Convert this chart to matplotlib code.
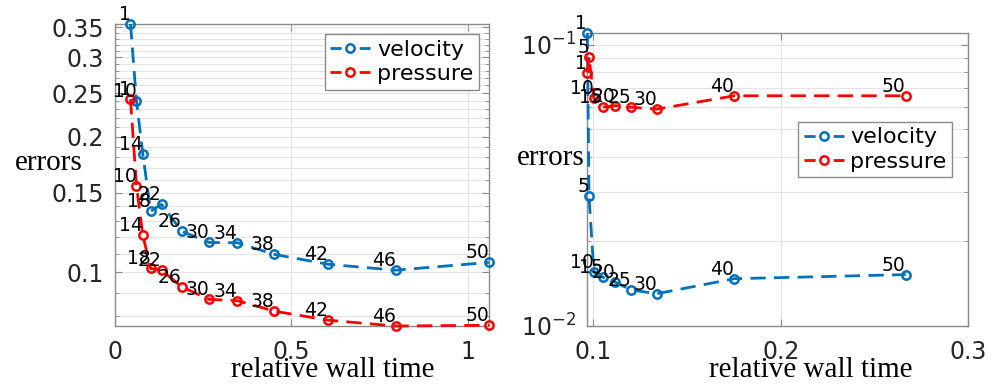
import numpy as np
import matplotlib
matplotlib.use('Agg')
import matplotlib.pyplot as plt
from matplotlib.ticker import FixedLocator, FixedFormatter, NullFormatter, LogLocator
from matplotlib.legend_handler import HandlerLine2D

# left panel: refinement level vs relative wall time
levels_left = [1, 10, 14, 18, 22, 26, 30, 34, 38, 42, 46, 50]
time_left = [0.044, 0.061, 0.079, 0.101, 0.132, 0.189, 0.267, 0.347, 0.452, 0.604, 0.796, 1.06]
vel_left = [0.356, 0.240, 0.183, 0.1366, 0.1414, 0.1233, 0.1164, 0.1162, 0.1095, 0.1041, 0.101, 0.1051]
pres_left = [0.2424, 0.1553, 0.1208, 0.1019, 0.1010, 0.0928, 0.0870, 0.0864, 0.0819, 0.0782, 0.0759, 0.0762]

# right panel
levels_right = [1, 5, 10, 15, 20, 25, 30, 40, 50]
time_right = [0.0968, 0.0977, 0.1003, 0.1049, 0.1116, 0.1202, 0.1339, 0.1752, 0.2666]
vel_right = [0.1098, 0.0289, 0.0155, 0.0149, 0.0143, 0.0134, 0.0130, 0.0147, 0.0152]
pres_right = [0.0795, 0.0906, 0.0645, 0.0599, 0.0607, 0.0599, 0.0590, 0.0658, 0.0658]

blue = '#0072BD'
red = '#FF0000'
dash = (0, (5.5, 3))


def legend_dash(handle, orig):
    # short dash - circle - short dash, like the matlab legend
    handle.update_from(orig)
    handle.set_linestyle((0, (4, 6.5)))


fig = plt.figure(figsize=(9.98, 3.85), dpi=100)
ax1 = fig.add_axes([0.1152, 0.1532, 0.3747, 0.7844])
ax2 = fig.add_axes([0.5885, 0.154, 0.3818, 0.7595])


def draw(ax, t, vel, pres, levels, anchor):
    lv, = ax.plot(t, vel, linestyle=dash, color=blue, lw=2, marker='o', ms=6,
                  mfc='none', mew=1.8, label='velocity', clip_on=False, zorder=3)
    lp, = ax.plot(t, pres, linestyle=dash, color=red, lw=2, marker='o', ms=6,
                  mfc='none', mew=1.8, label='pressure', clip_on=False, zorder=3)
    for x, v, p, n in zip(t, vel, pres, levels):
        ax.text(x, v, str(n), ha='right', va='bottom', fontsize=13.5, color='k')
        ax.text(x, p, str(n), ha='right', va='bottom', fontsize=13.5, color='k')
    ax.set_yscale('log')
    ax.grid(True, which='both', color='#e3e3e3', lw=0.8)
    ax.set_axisbelow(True)
    for s in ax.spines.values():
        s.set_color('#8a8a8a')
        s.set_linewidth(1.0)
    ax.tick_params(which='both', direction='in', top=True, right=True,
                   colors='#8a8a8a', labelcolor='#262626', labelsize=17)
    ax.tick_params(which='major', length=5)
    ax.tick_params(which='minor', length=3)
    ax.tick_params(axis='y', pad=8)
    ax.tick_params(axis='x', pad=10)
    hm = {lv: HandlerLine2D(update_func=legend_dash), lp: HandlerLine2D(update_func=legend_dash)}
    leg = ax.legend(handler_map=hm, loc='upper right', bbox_to_anchor=anchor,
                    fontsize=16, handlelength=1.8, handletextpad=0.3,
                    fancybox=False, framealpha=1, borderpad=0.25,
                    labelspacing=0.2, borderaxespad=0)
    leg.get_frame().set_edgecolor('#8a8a8a')
    leg.get_frame().set_linewidth(1.0)


draw(ax1, time_left, vel_left, pres_left, levels_left, (0.973, 0.967))
ax1.set_xlim(0, 1.06)
ax1.set_ylim(0.0759, 0.356)
ax1.yaxis.set_major_locator(FixedLocator([0.1, 0.15, 0.2, 0.25, 0.3, 0.35]))
ax1.yaxis.set_minor_locator(FixedLocator(np.arange(0.08, 0.36, 0.01)))
ax1.yaxis.set_major_formatter(FixedFormatter(['0.1', '0.15', '0.2', '0.25', '0.3', '0.35']))
ax1.yaxis.set_minor_formatter(NullFormatter())
ax1.set_xticks([0, 0.5, 1])
ax1.set_xticklabels(['0', '0.5', '1'])

draw(ax2, time_right, vel_right, pres_right, levels_right, (0.957, 0.697))
ax2.set_xlim(0.0968, 0.3)
ax2.set_ylim(0.01, 0.1098)
ax2.yaxis.set_major_locator(LogLocator(base=10))
ax2.yaxis.set_minor_locator(LogLocator(base=10, subs=np.arange(2, 10)))
ax2.yaxis.set_minor_formatter(NullFormatter())
ax2.set_xticks([0.1, 0.2, 0.3])
ax2.set_xticklabels(['0.1', '0.2', '0.3'])

for ax, xl, yl in [(ax1, (0.583, -0.103), (-0.086, 0.54)),
                   (ax2, (0.587, -0.107), (-0.006, 0.574))]:
    ax.set_xlabel('relative wall time', family='Liberation Serif', fontsize=21, va='top')
    ax.set_ylabel('errors', family='Liberation Serif', fontsize=21, rotation=0,
                  ha='right', va='center')
    ax.xaxis.set_label_coords(*xl)
    ax.yaxis.set_label_coords(*yl)

fig.savefig('out.png', dpi=100)
